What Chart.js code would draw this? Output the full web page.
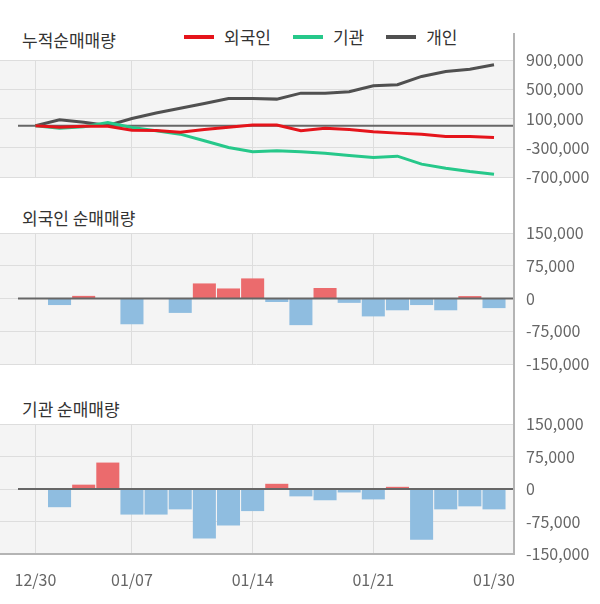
<!DOCTYPE html>
<html>
<head>
<meta charset="utf-8">
<script src="https://cdn.jsdelivr.net/npm/chart.js@4.4.1/dist/chart.umd.min.js"></script>
<style>
  html, body { margin: 0; padding: 0; background: #fff; }
  #wrap { position: relative; width: 600px; height: 604px; overflow: hidden; font-family: "Noto Sans CJK KR", sans-serif; }
  #wrap canvas { position: absolute; left: 0; }
  .ttl { position: absolute; left: 22px; font-size: 17px; line-height: 20px; color: #333; white-space: nowrap; }
  #legend { position: absolute; left: 184px; top: 27px; display: flex; font-size: 17px; line-height: 20px; color: #333; white-space: nowrap; }
  #legend .item { display: flex; align-items: center; margin-right: 22px; }
  #legend i { display: inline-block; width: 30px; height: 4px; margin-right: 10px; }
</style>
</head>
<body>
<div id="wrap">
  <div class="ttl" style="top:30px">누적순매매량</div>
  <div id="legend"></div>
  <div class="ttl" style="top:208px">외국인 순매매량</div>
  <div class="ttl" style="top:399px">기관 순매매량</div>
  <canvas id="cum" width="600" height="200" style="top:0"></canvas>
  <canvas id="foreign" width="600" height="190" style="top:200px"></canvas>
  <canvas id="inst" width="600" height="214" style="top:390px"></canvas>
</div>
<script>
// trading days, 2019-12-30 .. 2020-01-30
const dates = ["12/30", "01/02", "01/03", "01/06", "01/07", "01/08", "01/09", "01/10", "01/13", "01/14",
               "01/15", "01/16", "01/17", "01/20", "01/21", "01/22", "01/23", "01/28", "01/29", "01/30"];
const tickDates = ["12/30", "01/07", "01/14", "01/21", "01/30"];

// cumulative net buying (top panel)
const cumForeign = [0, -18000, -5000, -5000, -59000, -64000, -87000, -50000, -20000, 12000,
                    12000, -68000, -32000, -50000, -82000, -100000, -114000, -146000, -146000, -160000];
const cumInst = [0, -32000, -14000, 46000, -23000, -68000, -114000, -205000, -296000, -356000,
                 -342000, -356000, -374000, -406000, -433000, -415000, -524000, -579000, -625000, -661000];
const cumIndiv = [0, 82000, 50000, 5000, 100000, 175000, 240000, 305000, 374000, 374000,
                  365000, 447000, 447000, 465000, 547000, 561000, 675000, 743000, 775000, 834000];

// daily net buying
const foreignNet = [null, -15000, 6000, 0, -59000, 0, -33000, 34500, 23000, 46000,
                    -8000, -61000, 24000, -10000, -41000, -27000, -15000, -27000, 5500, -22000];
const instNet = [null, -42000, 10000, 61000, -59000, -59000, -47000, -114000, -84000, -51000,
                 12000, -17000, -26000, -8000, -24000, 5000, -117000, -47000, -40000, -47000];

const cumTicks = [-700000, 900000, 400000];   // min, max, step
const netTicks = [-150000, 150000, 75000];

Chart.defaults.font.family = '"Noto Sans CJK KR", sans-serif';
Chart.defaults.color = "#666";
Chart.defaults.animation = false;

const tickIdx = tickDates.map(d => dates.indexOf(d));
const lastIdx = dates.length - 1;
const pts = arr => arr.map((v, i) => ({ x: i, y: v }));

const bgPlugin = {
    id: "plotBg",
    beforeDraw(chart) {
        const a = chart.chartArea, ctx = chart.ctx;
        ctx.save();
        ctx.fillStyle = "#f4f4f4";
        ctx.fillRect(a.left, a.top, a.right - a.left, a.bottom - a.top);
        ctx.restore();
    }
};

function zeroLine(chart) {
    const a = chart.chartArea, ctx = chart.ctx;
    const y = chart.scales.y.getPixelForValue(0);
    ctx.save();
    ctx.strokeStyle = "#666";
    ctx.lineWidth = 2;
    ctx.beginPath();
    ctx.moveTo(a.left + 18, y);
    ctx.lineTo(a.right, y);
    ctx.stroke();
    ctx.restore();
}

const railPlugin = {
    id: "rail",
    afterDraw(chart, args, opts) {
        const a = chart.chartArea, ctx = chart.ctx;
        ctx.save();
        ctx.strokeStyle = "#b4b4b4";
        ctx.lineWidth = 2;
        ctx.beginPath();
        ctx.moveTo(a.right + 1, opts.top || 0);
        ctx.lineTo(a.right + 1, opts.toPlotBottom ? a.bottom + 1 : chart.height);
        ctx.stroke();
        ctx.restore();
    }
};

function xAxis(showLabels) {
    return {
        type: "linear",
        min: -1.467,
        max: 19.787,
        offset: false,
        afterBuildTicks: s => { s.ticks = tickIdx.map(v => ({ value: v })); },
        afterFit: s => {
            s.height = showLabels ? 50 : 0;
            s.paddingLeft = 0;
            s.paddingRight = 0;
        },
        grid: {
            offset: false,
            drawTicks: false,
            color: c => (c.tick && c.tick.value === lastIdx) ? "rgba(0,0,0,0)" : "#dddddd"
        },
        border: showLabels ? { display: true, color: "#b4b4b4", width: 2 } : { display: false },
        ticks: {
            display: showLabels,
            autoSkip: false,
            maxRotation: 0,
            padding: 16,
            color: "#666",
            font: { size: 16 },
            callback: v => dates[v]
        }
    };
}

function yAxis(t) {
    return {
        position: "right",
        min: t[0],
        max: t[1],
        afterFit: s => { s.width = 87; },
        grid: { drawTicks: false, color: "#dddddd" },
        border: { display: false },
        ticks: {
            stepSize: t[2],
            padding: 13,
            color: "#666",
            font: { size: 16 },
            callback: v => v.toLocaleString("en-US")
        }
    };
}

const cumChart = new Chart(document.getElementById("cum"), {
    type: "line",
    data: {
        datasets: [
            { label: "외국인", data: pts(cumForeign), borderColor: "#e5141b" },
            { label: "기관", data: pts(cumInst), borderColor: "#26c88a" },
            { label: "개인", data: pts(cumIndiv), borderColor: "#505050" }
        ]
    },
    options: {
        responsive: false,
        layout: { padding: { top: 60, bottom: 23, left: 0, right: 0 } },
        elements: { point: { radius: 0 }, line: { borderWidth: 3, tension: 0 } },
        scales: { x: xAxis(false), y: yAxis(cumTicks) },
        plugins: { legend: { display: false }, tooltip: { enabled: false }, rail: { top: 33 } }
    },
    plugins: [bgPlugin, { id: "zero", beforeDatasetsDraw: zeroLine }, railPlugin]
});

document.getElementById("legend").innerHTML = cumChart.data.datasets.map(d =>
    '<span class="item"><i style="background:' + d.borderColor + '"></i>' + d.label + '</span>').join("");

function netChart(id, values, showLabels, padding, railOpts) {
    return new Chart(document.getElementById(id), {
        type: "bar",
        data: {
            datasets: [{
                data: pts(values),
                backgroundColor: c => (c.parsed && c.parsed.y >= 0) ? "#eb6b6d" : "#8fbde0",
                barPercentage: 0.955,
                categoryPercentage: 1
            }]
        },
        options: {
            responsive: false,
            layout: { padding: padding },
            scales: { x: xAxis(showLabels), y: yAxis(netTicks) },
            plugins: { legend: { display: false }, tooltip: { enabled: false }, rail: railOpts }
        },
        plugins: [bgPlugin, { id: "zero", afterDatasetsDraw: zeroLine }, railPlugin]
    });
}

netChart("foreign", foreignNet, false, { top: 33, bottom: 26, left: 0, right: 0 }, {});
netChart("inst", instNet, true, { top: 34, bottom: 0, left: 0, right: 0 }, { toPlotBottom: true });
</script>
</body>
</html>
